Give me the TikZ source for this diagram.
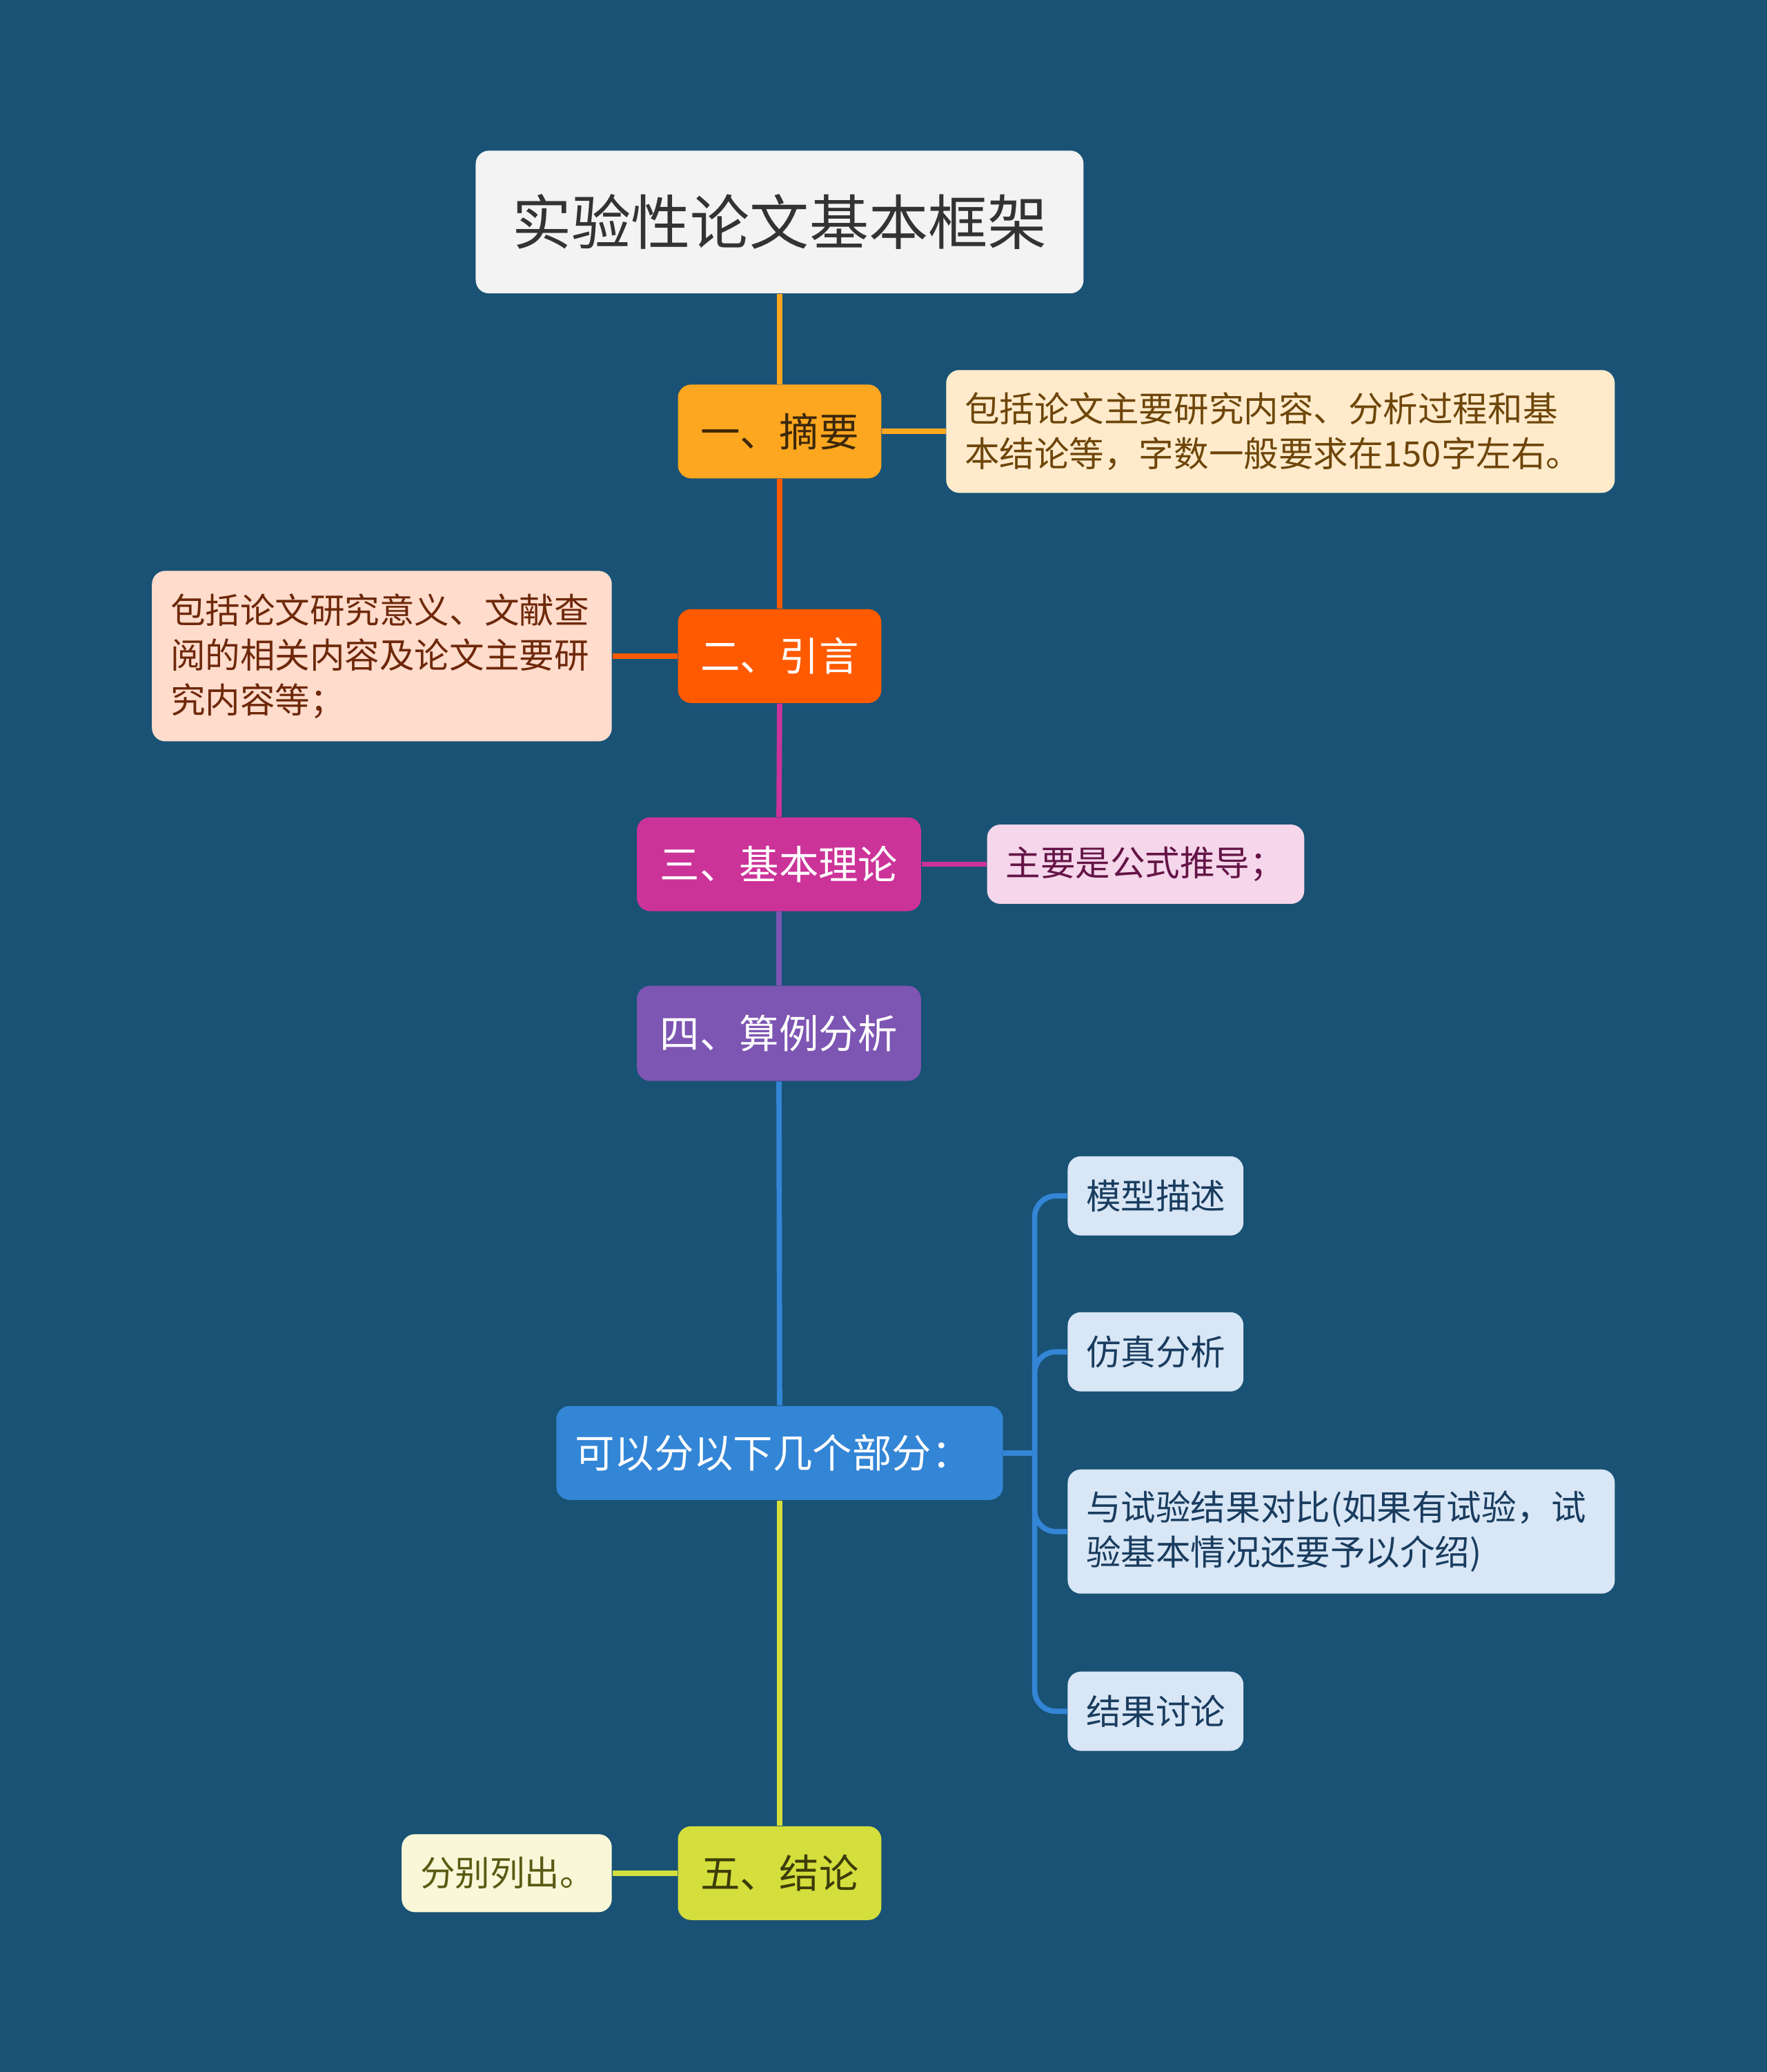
\documentclass[tikz,border=0pt]{standalone}
\usepackage{fontspec}
\setmainfont{Noto Sans CJK SC}
\definecolor{bg}{RGB}{25,82,117}
\definecolor{c1}{RGB}{253,166,31}
\definecolor{c2}{RGB}{255,90,0}
\definecolor{c3}{RGB}{204,51,153}
\definecolor{c4}{RGB}{125,85,178}
\definecolor{c5}{RGB}{51,133,214}
\definecolor{c6}{RGB}{212,222,60}
\begin{document}
\begin{tikzpicture}[x=0.5pt,y=-0.5pt,
 box/.style={rectangle,rounded corners=5pt,inner xsep=7pt,inner ysep=0pt},
 main/.style={box,font=\fontsize{15}{18}\selectfont,minimum height=35.5pt,text=white},
 desc/.style={box,font=\fontsize{13.2}{17}\selectfont,align=left},
 sub/.style={box,fill={rgb,255:red,216;green,230;blue,245},text={rgb,255:red,25;green,60;blue,95},font=\fontsize{13.2}{17}\selectfont,align=left,minimum height=30pt},
 ln/.style={line width=2pt}]
\fill[bg] (0,0) rectangle (1337,1568);
\useasboundingbox (0,0) rectangle (1337,1568);
\node[box,fill={rgb,255:red,243;green,243;blue,243},minimum width=230pt,minimum height=54pt,font=\fontsize{22.5}{28}\selectfont,text={rgb,255:red,51;green,51;blue,51}] (t) at (590,168) {实验性论文基本框架};
\node[main,fill=c1,text={rgb,255:red,60;green,40;blue,10},minimum width=77pt] (a) at (590,326.5) {一、摘要};
\node[main,fill=c2,minimum width=77pt] (b) at (590,496.5) {二、引言};
\node[main,fill=c3,minimum width=107.5pt] (c) at (589.5,654) {三、基本理论};
\node[main,fill=c4,minimum width=107.5pt,minimum height=36pt] (d) at (589.5,782) {四、算例分析};
\node[main,fill=c5,minimum width=169pt,align=left,text width=155pt] (e) at (590,1099.5) {可以分以下几个部分：};
\node[main,fill=c6,text={rgb,255:red,60;green,60;blue,10},minimum width=77pt] (f) at (590,1417.5) {五、结论};
\node[desc,fill={rgb,255:red,255;green,235;blue,204},text={rgb,255:red,110;green,70;blue,10},text width=239pt,minimum height=46.5pt] (da) at (969,326.5) {包括论文主要研究内容、分析过程和基\\本结论等，字数一般要求在150字左右。};
\node[desc,fill={rgb,255:red,255;green,220;blue,204},text={rgb,255:red,110;green,40;blue,10},text width=160pt,minimum height=64.5pt] (db) at (289,496.5) {包括论文研究意义、文献查\\阅的相关内容及论文主要研\\究内容等；};
\node[desc,fill={rgb,255:red,245;green,214;blue,235},text={rgb,255:red,100;green,20;blue,70},text width=106pt,minimum height=30pt] (dc) at (867,654) {主要是公式推导；};
\node[desc,fill={rgb,255:red,248;green,248;blue,216},text={rgb,255:red,90;green,90;blue,20},text width=65.5pt,minimum height=29.5pt] (df) at (383.5,1417.5) {分别列出。};
\node[sub,text width=52.5pt] (s1) at (874.5,905) {模型描述};
\node[sub,text width=52.5pt] (s2) at (874.5,1023) {仿真分析};
\node[sub,text width=193pt,minimum height=47pt] (s3) at (1015,1159) {与试验结果对比(如果有试验，试\\验基本情况还要予以介绍)};
\node[sub,text width=52.5pt] (s4) at (874.5,1295) {结果讨论};
\draw[ln,c1] (t.south) -- (a.north);
\draw[ln,c2] (a.south) -- (b.north);
\draw[ln,c3] (b.south) -- (c.north);
\draw[ln,c4] (c.south) -- (d.north);
\draw[ln,c5] (d.south) -- (e.north);
\draw[ln,c6] (e.south) -- (f.north);
\draw[ln,c1] (a.east) -- (da.west);
\draw[ln,c2] (b.west) -- (db.east);
\draw[ln,c3] (c.east) -- (dc.west);
\draw[ln,c6] (f.west) -- (df.east);
\coordinate (j) at (783,1099.5);
\draw[ln,c5] (e.east) -- (j);
\foreach \s in {s1,s2,s3,s4}{
  \draw[ln,c5,rounded corners=8pt] (j) -- (j|-\s.west) -- (\s.west);
}
\end{tikzpicture}
\end{document}
